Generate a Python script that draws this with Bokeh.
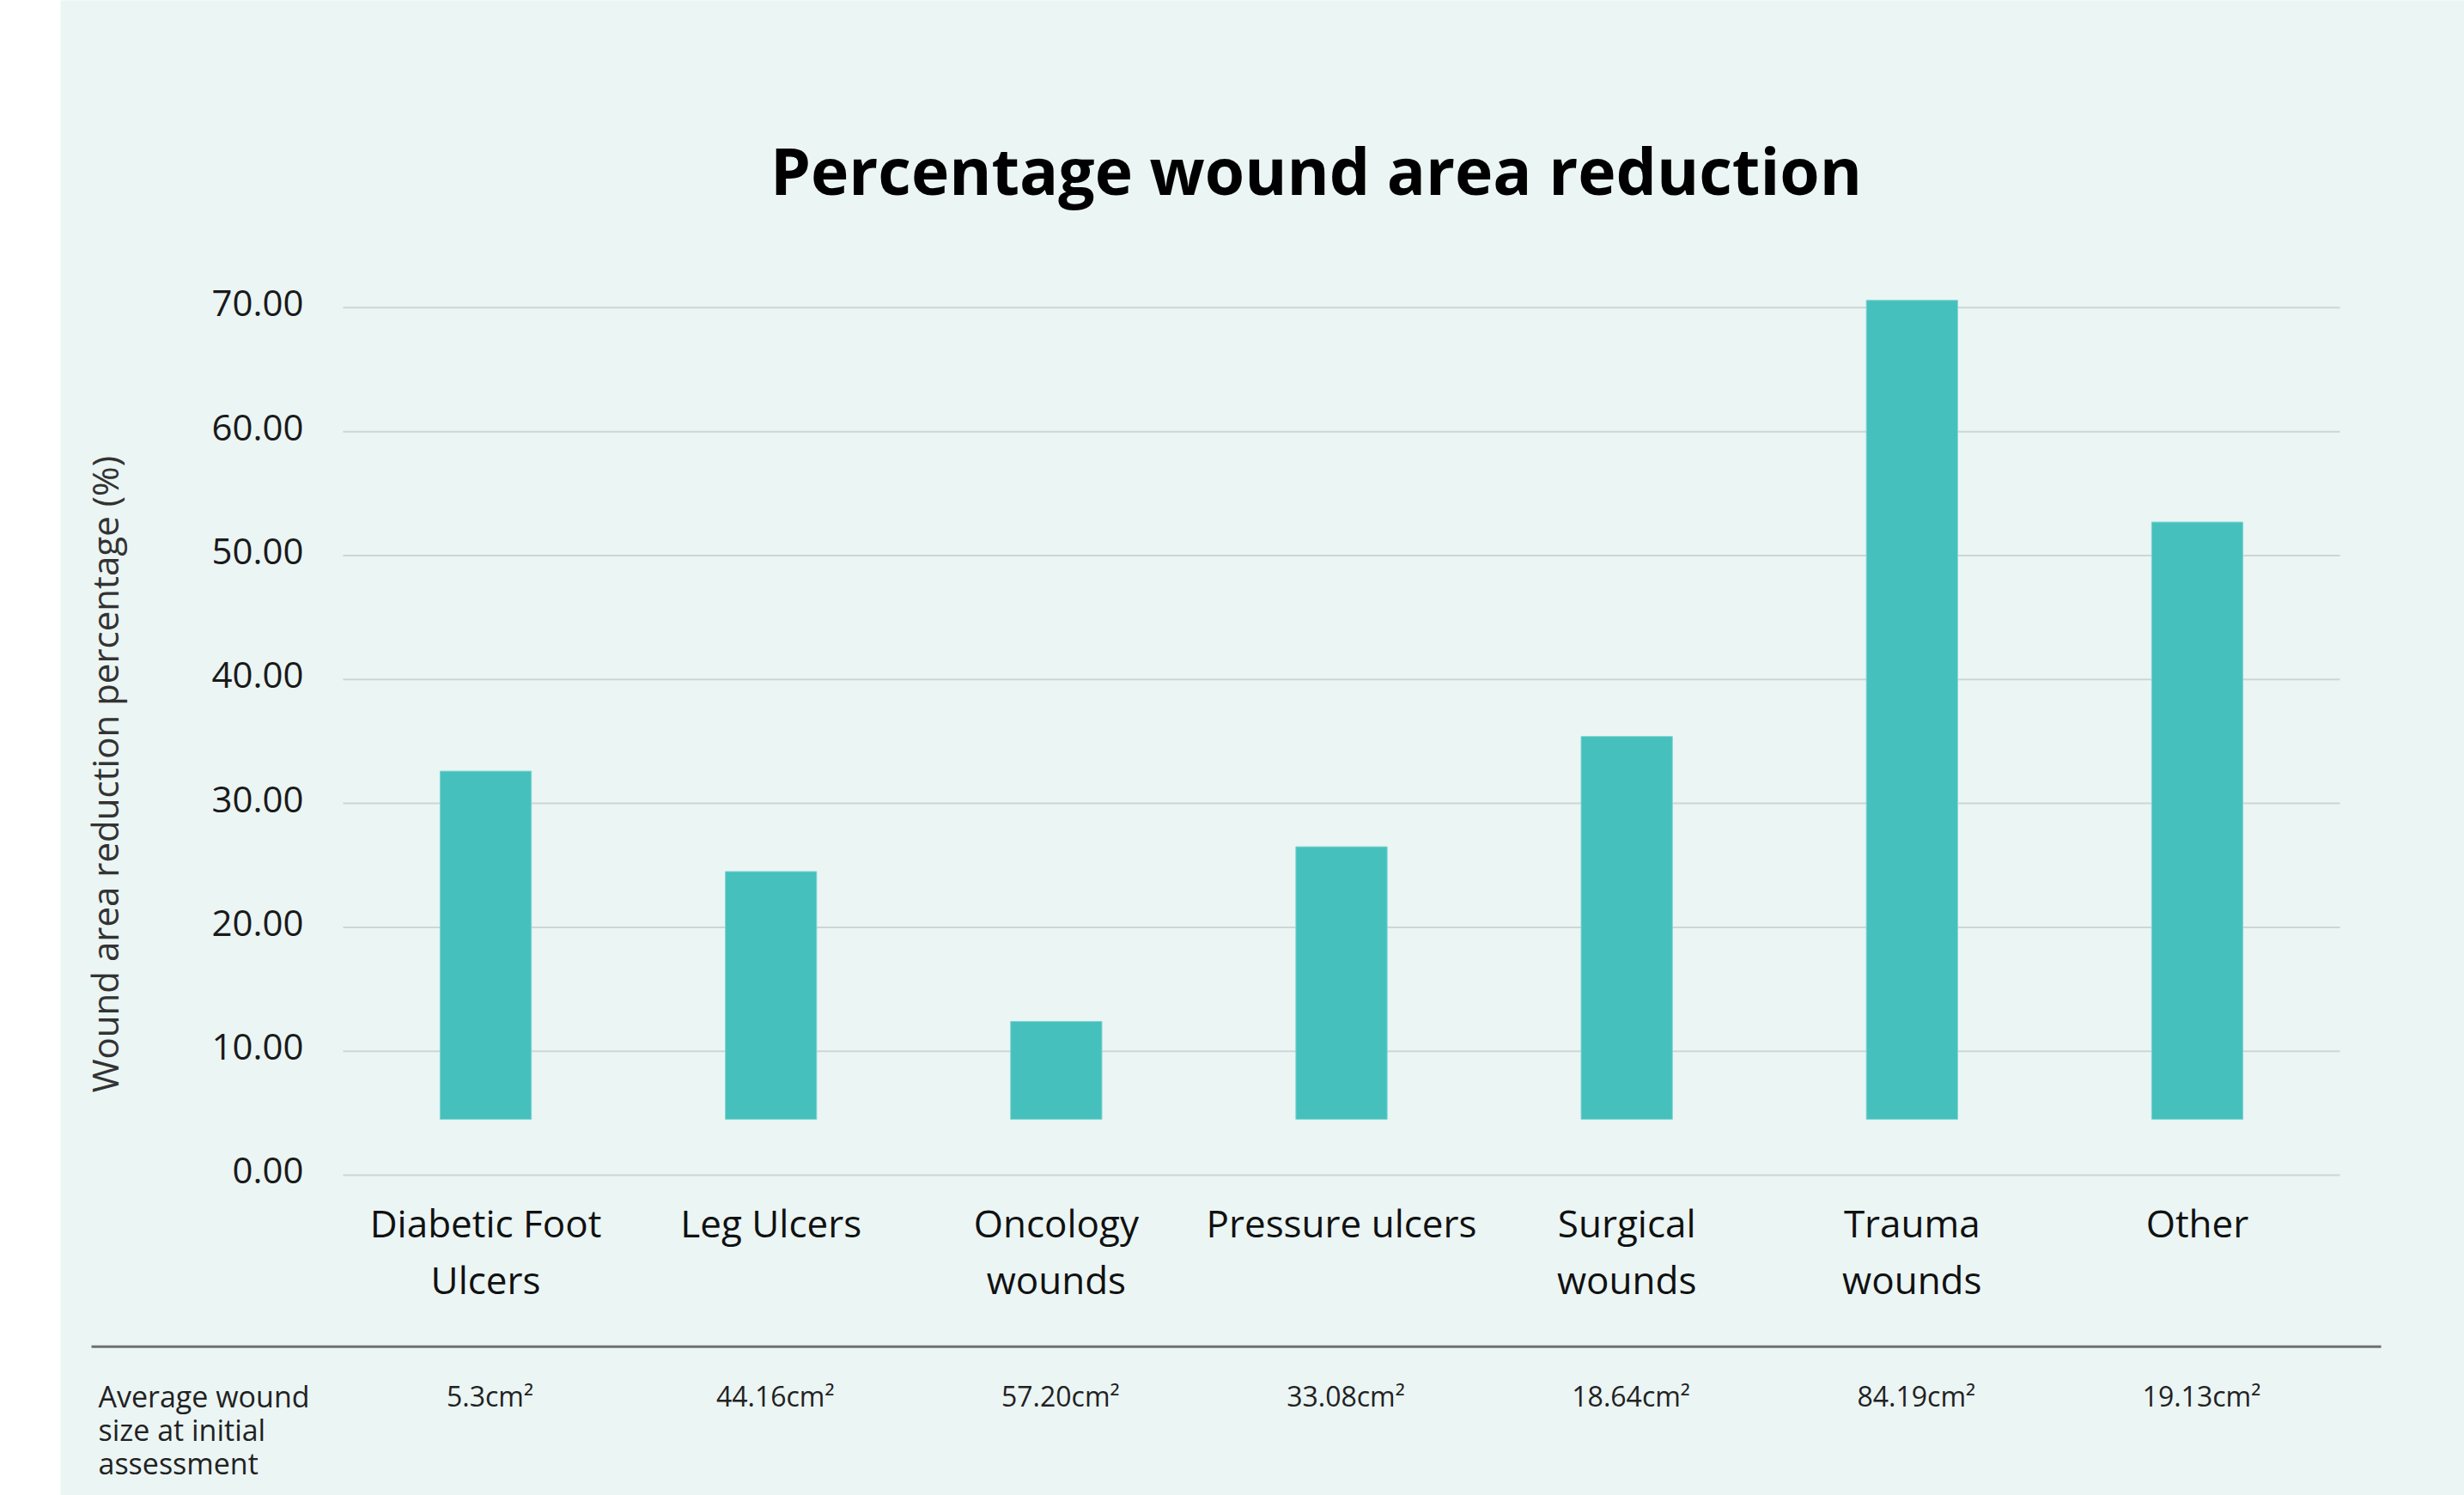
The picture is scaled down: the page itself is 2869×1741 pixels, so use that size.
import math
from bokeh.plotting import figure
from bokeh.models import ColumnDataSource, Range1d, Spacer
from bokeh.layouts import row
from bokeh.core.properties import value
from bokeh.embed import file_html
from bokeh.resources import INLINE

# Wound categories and their average area reduction (%)
categories = ["Diabetic Foot Ulcers", "Leg Ulcers", "Oncology wounds", "Pressure ulcers",
              "Surgical wounds", "Trauma wounds", "Other"]
category_labels = ["Diabetic Foot\nUlcers", "Leg Ulcers", "Oncology\nwounds", "Pressure ulcers",
                   "Surgical\nwounds", "Trauma\nwounds", "Other"]
reduction_pct = [32.6, 24.5, 12.4, 26.5, 35.4, 70.6, 52.7]
# Average wound size at the initial assessment
avg_wound_size = ["5.3cm²", "44.16cm²", "57.20cm²", "33.08cm²", "18.64cm²", "84.19cm²", "19.13cm²"]
y_ticks = [0, 10, 20, 30, 40, 50, 60, 70]
footer_lines = ["Average wound", "size at initial", "assessment"]

BG = "#EBF5F4"
BAR = "#46C0BC"
GRID = "#CDD6D6"
FONT = value("Open Sans")
BAR_BASE = 4.5
BAR_WIDTH = 0.32

# layout positions (data units of the chart's scales)
X_START, X_END = -1.4905, 6.9365
Y_START, Y_END = -25.85, 94.80
TICK_LABEL_X = -0.6385
AXIS_TITLE_X, AXIS_TITLE_Y = -1.338, 32.36
CAT_LINE1_Y, CAT_LINE2_Y = -3.87, -8.44
SEP_Y, SEP_X0, SEP_X1 = -13.84, -1.382, 6.6445
SIZE_ROW_Y = -17.81
CAPTION_X, CAPTION_Y = -1.358, [-17.88, -20.58, -23.22]
TITLE_X, TITLE_Y = 2.911, 81.08

xs = list(range(len(categories)))
line1 = [c.split("\n")[0] for c in category_labels]
line2 = [c.split("\n")[1] if "\n" in c else "" for c in category_labels]

bars = ColumnDataSource(dict(x=xs, pct=reduction_pct, size=avg_wound_size,
                             line1=line1, line2=line2))
ticks = ColumnDataSource(dict(y=y_ticks, label=[f"{t:.2f}" for t in y_ticks]))

p = figure(x_range=Range1d(X_START, X_END), y_range=Range1d(Y_START, Y_END),
           width=2799, height=1741, output_backend="svg", toolbar_location=None,
           x_axis_location=None, y_axis_location=None, min_border=0,
           background_fill_color=BG, border_fill_color=BG, outline_line_color=None)
p.grid.visible = False

# horizontal grid lines across the category band
p.segment(x0=-0.5, x1=len(categories) - 0.5, y0="y", y1="y", source=ticks,
          line_color=GRID, line_width=2)

# bars
p.vbar(x="x", top="pct", bottom=BAR_BASE, width=BAR_WIDTH, source=bars,
       fill_color=BAR, line_color="#7FD6D2", line_width=1)

# value axis labels
p.text(x=TICK_LABEL_X, y="y", text="label", source=ticks, y_offset=-5, text_align="right",
       text_baseline="middle", text_font=FONT, text_font_size="42px", text_color="#1a1a1a")
p.text(x=[AXIS_TITLE_X], y=[AXIS_TITLE_Y], text=["Wound area reduction percentage (%)"],
       angle=math.pi / 2, text_align="center", text_baseline="middle", text_font=FONT,
       text_font_size="42px", text_color="#333333")

# category names (two lines)
for col, yy in (("line1", CAT_LINE1_Y), ("line2", CAT_LINE2_Y)):
    p.text(x="x", y=yy, text=col, source=bars, text_align="center",
           text_baseline="alphabetic", text_font=FONT, text_font_size="44px",
           text_color="#111111")

# separator and wound-size row
p.segment(x0=[SEP_X0], x1=[SEP_X1], y0=[SEP_Y], y1=[SEP_Y], line_color="#707070", line_width=3)
p.text(x="x", y=SIZE_ROW_Y, text="size", source=bars, x_offset=5, text_align="center",
       text_baseline="alphabetic", text_font=FONT, text_font_size="32px", text_color="#222222")
p.text(x=CAPTION_X, y=CAPTION_Y, text=footer_lines, text_align="left",
       text_baseline="alphabetic", text_font=FONT, text_font_size="34px", text_color="#222222")

# chart title
p.text(x=[TITLE_X], y=[TITLE_Y], text=["Percentage wound area reduction"], text_align="center",
       text_baseline="alphabetic", text_font=FONT, text_font_style="bold",
       text_font_size="75px", text_color="#000000")

layout = row(Spacer(width=70, height=1741), p)
open("out.html", "w").write(file_html(layout, INLINE))
